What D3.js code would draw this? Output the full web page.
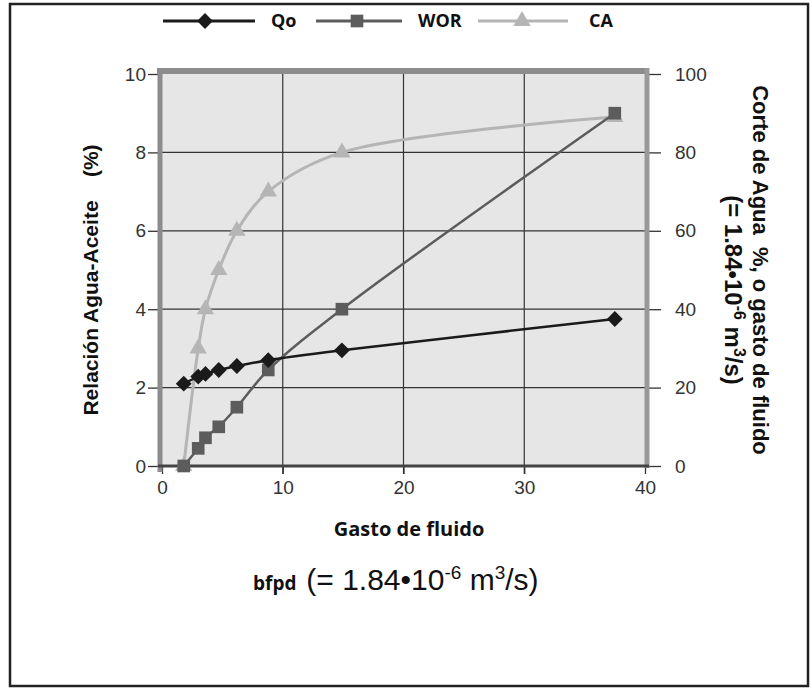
<!DOCTYPE html>
<html><head><meta charset="utf-8">
<script src="https://cdn.jsdelivr.net/npm/d3@7"></script>
<style>body{margin:0;background:#fff}svg{display:block}</style>
</head><body>
<svg id="c" width="811" height="688"></svg>
<script>
// data
const fluidRate = [1.8, 3.0, 3.6, 4.7, 6.2, 8.8, 14.9, 37.5];
const qo  = [21, 22.8, 23.5, 24.5, 25.5, 27, 29.5, 37.5];   // right axis
const wor = [0, 0.45, 0.72, 1.0, 1.5, 2.45, 4.0, 9.0];      // left axis
const ca  = [0, 30, 40, 50, 60, 70, 80, 89];                 // right axis
const xTicks = [0, 10, 20, 30, 40];
const yLeftTicks = [0, 2, 4, 6, 8, 10];
const yRightTicks = [0, 20, 40, 60, 80, 100];
const seriesNames = ["Qo", "WOR", "CA"];

const svg = d3.select("#c");
const L = 162, R = 645, T = 74, B = 466;
const x = d3.scaleLinear().domain([0, 40]).range([L, R]);
const yL = d3.scaleLinear().domain([0, 10]).range([B, T]);
const yR = d3.scaleLinear().domain([0, 100]).range([B, T]);

// outer frame
svg.append("rect").attr("x", 10).attr("y", 4).attr("width", 798).attr("height", 682)
  .attr("fill", "none").attr("stroke", "#222").attr("stroke-width", 2.5);

// plot background
svg.append("rect").attr("x", L).attr("y", T).attr("width", R - L).attr("height", B - T).attr("fill", "#e6e6e6");

// grid
const g = svg.append("g");
g.selectAll(".gx").data(xTicks.filter(d => d > 0 && d < 40)).join("line")
  .attr("x1", d => x(d)).attr("x2", d => x(d)).attr("y1", T).attr("y2", B + 8)
  .attr("stroke", "#333").attr("stroke-width", 1.2);
g.selectAll(".gy").data(yLeftTicks.filter(d => d > 0 && d < 10)).join("line")
  .attr("x1", L).attr("x2", R).attr("y1", d => yL(d)).attr("y2", d => yL(d))
  .attr("stroke", "#333").attr("stroke-width", 1.2);

// axes via d3
const axFont = "19px 'Liberation Sans', Arial, sans-serif";
const axL = svg.append("g").attr("transform", `translate(${L - 2},0)`)
  .call(d3.axisLeft(yL).tickValues(yLeftTicks).tickSize(12).tickPadding(2).tickFormat(d3.format("d")));
const axR = svg.append("g").attr("transform", `translate(${R + 2},0)`)
  .call(d3.axisRight(yR).tickValues(yRightTicks).tickSize(14).tickPadding(14).tickFormat(d3.format("d")));
const axB = svg.append("g").attr("transform", `translate(0,${B})`)
  .call(d3.axisBottom(x).tickValues(xTicks).tickSize(8).tickPadding(7).tickFormat(d3.format("d")));
[axL, axR, axB].forEach(a => {
  a.select(".domain").remove();
  a.selectAll(".tick line").attr("stroke", "#333").attr("stroke-width", 1.3);
  a.selectAll("text").style("font", axFont).attr("fill", "#333");
});

// frame lines
svg.append("line").attr("x1", L - 5).attr("x2", R + 2).attr("y1", T - 3).attr("y2", T - 3)
  .attr("stroke", "#8c8c8c").attr("stroke-width", 6);
svg.append("line").attr("x1", L - 2).attr("x2", L - 2).attr("y1", T - 6).attr("y2", B + 6)
  .attr("stroke", "#8c8c8c").attr("stroke-width", 5);
svg.append("line").attr("x1", R + 2).attr("x2", R + 2).attr("y1", T - 6).attr("y2", B + 2)
  .attr("stroke", "#999").attr("stroke-width", 5);
svg.append("line").attr("x1", L - 4).attr("x2", R + 4).attr("y1", B).attr("y2", B)
  .attr("stroke", "#444").attr("stroke-width", 3);

// series
const cols = {Qo: "#1a1a1a", WOR: "#5c5c5c", CA: "#b5b5b5"};
const line = d3.line().curve(d3.curveCatmullRom.alpha(0.5));
const ptsQo = fluidRate.map((v, i) => [x(v), yR(qo[i])]);
const ptsWor = fluidRate.map((v, i) => [x(v), yL(wor[i])]);
const ptsCa = fluidRate.map((v, i) => [x(v), yR(ca[i])]);

const sym = {
  Qo: d3.symbol().type(d3.symbolDiamond2).size(160),
  WOR: d3.symbol().type(d3.symbolSquare).size(160),
  CA: d3.symbol().type(d3.symbolTriangle).size(130)
};
function draw(pts, name, w) {
  svg.append("path").attr("d", line(pts)).attr("fill", "none").attr("stroke", cols[name]).attr("stroke-width", w);
  svg.append("g").selectAll("path").data(pts).join("path")
    .attr("transform", d => `translate(${d[0]},${d[1]})`).attr("d", sym[name]()).attr("fill", cols[name]);
}
draw(ptsCa, "CA", 3);
draw(ptsWor, "WOR", 2.5);
draw(ptsQo, "Qo", 2.5);

// legend
const legLine = [[163, 255], [316, 402], [478, 568]];
const legMark = [205, 357, 522];
const legText = [271, 418, 589];
const legY = 21;
const lg = svg.append("g");
seriesNames.forEach((n, i) => {
  lg.append("line").attr("x1", legLine[i][0]).attr("x2", legLine[i][1]).attr("y1", legY).attr("y2", legY)
    .attr("stroke", cols[n]).attr("stroke-width", 3);
  lg.append("path").attr("transform", `translate(${legMark[i]},${legY})`).attr("d", sym[n]()).attr("fill", cols[n]);
  lg.append("text").attr("x", legText[i]).attr("y", legY + 6).text(n)
    .style("font", "bold 18px 'Open Sans', sans-serif").attr("fill", "#111");
});

// axis titles
svg.append("text").attr("transform", `translate(98,${(T + B) / 2 + 10}) rotate(-90)`)
  .attr("text-anchor", "middle").style("font", "bold 21px 'Liberation Sans', Arial, sans-serif")
  .attr("fill", "#111").attr("xml:space", "preserve").text("Relación Agua-Aceite    (%)");

svg.append("text").attr("transform", `translate(753,${(T + B) / 2}) rotate(90)`)
  .attr("text-anchor", "middle").style("font", "bold 22px 'Liberation Sans', Arial, sans-serif")
  .attr("fill", "#111").attr("xml:space", "preserve").text("Corte de Agua  %, o gasto de fluido");

const r2 = svg.append("text").attr("transform", `translate(725,${(T + B) / 2 + 20}) rotate(90)`)
  .attr("text-anchor", "middle").style("font", "bold 24px 'Liberation Sans', Arial, sans-serif").attr("fill", "#111");
r2.append("tspan").text("(= 1.84•10");
r2.append("tspan").attr("dy", -9).style("font-size", "16px").text("-6");
r2.append("tspan").attr("dy", 9).text(" m");
r2.append("tspan").attr("dy", -9).style("font-size", "16px").text("3");
r2.append("tspan").attr("dy", 9).text("/s)");

svg.append("text").attr("x", 409).attr("y", 536).attr("text-anchor", "middle")
  .style("font", "bold 20px 'Open Sans', sans-serif").attr("fill", "#111").text("Gasto de fluido");

const b2 = svg.append("text").attr("x", 253).attr("y", 590).attr("fill", "#111").attr("xml:space", "preserve");
const big = "30px 'Liberation Sans', Arial, sans-serif", sm = "19px 'Liberation Sans', Arial, sans-serif";
b2.append("tspan").style("font", "bold 19px 'Open Sans', sans-serif").text("bfpd  ");
b2.append("tspan").style("font", big).text("(= 1.84•10");
b2.append("tspan").attr("dy", -11).style("font", sm).text("-6");
b2.append("tspan").attr("dy", 11).style("font", big).text(" m");
b2.append("tspan").attr("dy", -11).style("font", sm).text("3");
b2.append("tspan").attr("dy", 11).style("font", big).text("/s)");
</script>
</body></html>
